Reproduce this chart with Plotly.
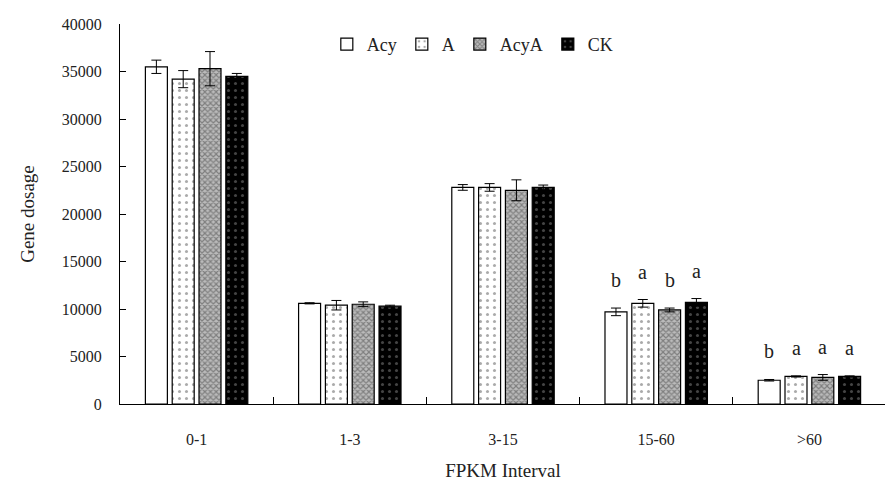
import plotly.graph_objects as go

categories = ["0-1", "1-3", "3-15", "15-60", ">60"]
series_names = ["Acy", "A", "AcyA", "CK"]
acy = [35500, 10600, 22800, 9700, 2500]
a = [34200, 10400, 22800, 10600, 2900]
acya = [35300, 10500, 22500, 9900, 2800]
ck = [34500, 10300, 22800, 10700, 2900]
acy_err = [700, 60, 300, 400, 80]
a_err = [900, 500, 400, 400, 60]
acya_err = [1800, 250, 1100, 200, 300]
ck_err = [300, 100, 250, 400, 60]
letters = {
    "Acy": ["", "", "", "b", "b"],
    "A": ["", "", "", "a", "a"],
    "AcyA": ["", "", "", "b", "a"],
    "CK": ["", "", "", "a", "a"],
}
y_ticks = [0, 5000, 10000, 15000, 20000, 25000, 30000, 35000, 40000]
y_tick_labels = [str(v) for v in y_ticks]

values = [acy, a, acya, ck]
errors = [acy_err, a_err, acya_err, ck_err]
styles = [
    dict(color="white", pattern=dict(shape="")),
    dict(color="white", pattern=dict(shape=".", fgcolor="#555", bgcolor="white", size=7, solidity=0.15)),
    dict(color="#888", pattern=dict(shape="x", fgcolor="#444", bgcolor="#bbb", size=4, solidity=0.5)),
    dict(color="black", pattern=dict(shape=".", fgcolor="#888", bgcolor="black", size=7, solidity=0.15)),
]

font = "Liberation Serif, Times New Roman, serif"
fig = go.Figure()
for name, vals, errs, st in zip(series_names, values, errors, styles):
    fig.add_trace(go.Bar(
        name=name, x=categories, y=vals,
        error_y=dict(type="data", array=errs, color="black", thickness=1, width=5),
        marker=dict(color=st["color"], pattern=st["pattern"],
                    line=dict(color="black", width=1.2)),
    ))

bargap, bargroupgap = 0.3, 0.18
fig.update_layout(
    width=893, height=489,
    barmode="group", bargap=bargap, bargroupgap=bargroupgap,
    plot_bgcolor="white", paper_bgcolor="white",
    margin=dict(l=112, r=15, t=8, b=93),
    font=dict(family=font, size=16, color="#222"),
    showlegend=True,
    legend=dict(orientation="h", x=0.27, y=0.995, xanchor="left", yanchor="top",
                font=dict(size=18, family=font), itemwidth=30, traceorder="normal",
                bgcolor="rgba(0,0,0,0)"),
    xaxis=dict(showline=True, linecolor="black", linewidth=1.2, ticks="inside",
               tickson="boundaries", ticklen=7, tickcolor="black",
               tickfont=dict(size=16, family=font), ticklabelstandoff=21,
               title=dict(text="FPKM Interval", font=dict(size=19, family=font), standoff=16)),
    yaxis=dict(range=[0, 40005], tickvals=y_ticks, ticktext=y_tick_labels, showline=True,
               linecolor="black", linewidth=1.2, ticks="inside", ticklen=6, tickcolor="black",
               showgrid=False, zeroline=False, tickfont=dict(size=16, family=font),
               ticklabelstandoff=14, ticklabeloverflow="allow",
               title=dict(text="Gene dosage", font=dict(size=19, family=font), standoff=22)),
)

ngroups = len(series_names)
slot = (1 - bargap) / ngroups
for si, name in enumerate(series_names):
    for ci, cat in enumerate(categories):
        lab = letters[name][ci]
        if not lab:
            continue
        xoff = -0.5 + bargap / 2 + slot * (si + 0.5)
        fig.add_annotation(x=ci + xoff, y=values[si][ci] + errors[si][ci], xref="x", yref="y",
                           text=lab, showarrow=False, yanchor="bottom", yshift=15,
                           font=dict(size=20, family=font, color="#222"))

fig.write_html("out.html")
